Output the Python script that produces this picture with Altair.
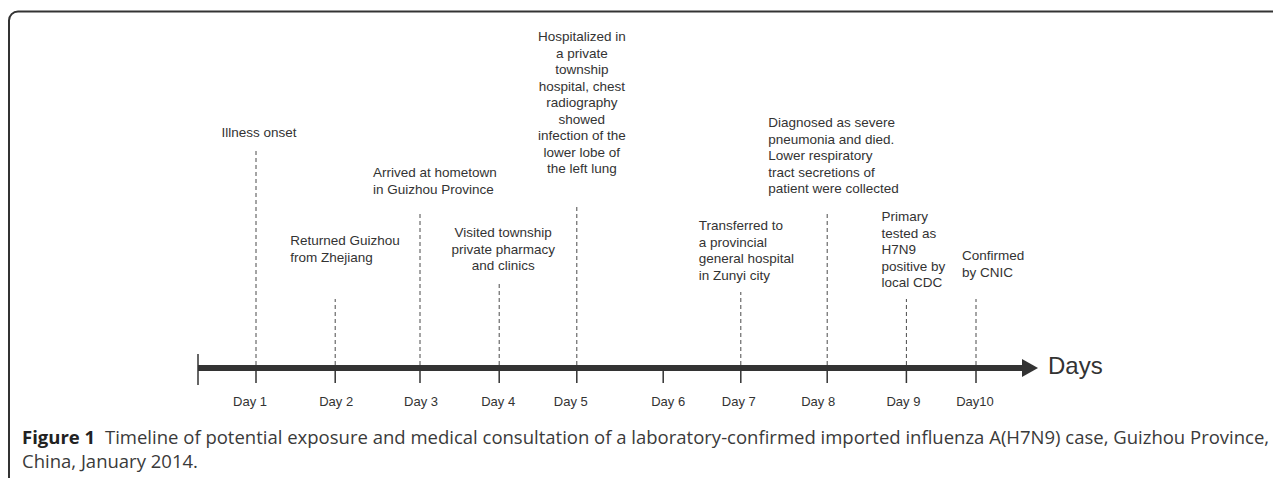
import altair as alt
import pandas as pd

# ---------------- data ----------------
day_labels = ["Day 1", "Day 2", "Day 3", "Day 4", "Day 5",
              "Day 6", "Day 7", "Day 8", "Day 9", "Day10"]
# drawn position of each day mark on the timeline (in day units)
day_pos = [1.0, 1.99, 3.05, 4.04, 5.01, 6.09, 7.06, 8.14, 9.13, 10.0]

event_day = [1, 2, 3, 4, 5, 7, 8, 9, 10]
event_lines = [
    ["Illness onset"],
    ["Returned Guizhou", "from Zhejiang"],
    ["Arrived at hometown", "in Guizhou Province"],
    ["Visited township", "private pharmacy", "and clinics"],
    ["Hospitalized in", "a private", "township", "hospital, chest",
     "radiography", "showed", "infection of the", "lower lobe of",
     "the left lung"],
    ["Transferred to", "a provincial", "general hospital", "in Zunyi city"],
    ["Diagnosed as severe", "pneumonia and died.", "Lower respiratory",
     "tract secretions of", "patient were collected"],
    ["Primary", "tested as", "H7N9", "positive by", "local CDC"],
    ["Confirmed", "by CNIC"],
]

caption_bold = "Figure 1"
caption_line1 = ("Timeline of potential exposure and medical consultation of a "
                 "laboratory-confirmed imported influenza A(H7N9) case, Guizhou Province,")
caption_line2 = "China, January 2014."
axis_title = "Days"

# ---------------- layout (kept apart from the data) ----------------
PX = 80.0                                   # pixels per day unit
stem_top = [220, 69, 156, 85, 164, 76, 156, 69, 69]      # height of dashed stem
label_align = ["center", "left", "left", "center", "center",
               "left", "left", "left", "left"]
label_dx = [3, -45, -47, 4, 5, -42, -59, -25, -14]        # px from the stem
label_top = [235, 127, 195, 135, 331, 142, 245, 151, 112]  # first text line height
day_label_dx = [-6, 1, 1, -1, -6, 5, -2, -9, -3, -1]      # px shift of day labels

TXT = "#333333"
FONT = "Liberation Sans"
CAP_FS = 18.5

xs = alt.Scale(domain=[-2.1, 13.7125], nice=False, zero=False)
ys = alt.Scale(domain=[-110, 360], nice=False, zero=False)


def X(f, **kw):
    return alt.X(f, type="quantitative", scale=xs, axis=None, **kw)


def Y(f, **kw):
    return alt.Y(f, type="quantitative", scale=ys, axis=None, **kw)


ev = pd.DataFrame({
    "pos": [day_pos[d - 1] for d in event_day],
    "top": stem_top,
    "base": [3] * len(event_day),
    "lx": [day_pos[d - 1] + dx / PX for d, dx in zip(event_day, label_dx)],
    "ly": label_top,
    "label": ["\n".join(l) for l in event_lines],
    "align": label_align,
})

days_df = pd.DataFrame({
    "pos": day_pos, "label": day_labels,
    "lpos": [p + dx / PX for p, dx in zip(day_pos, day_label_dx)],
    "y0": [0] * 10, "y1": [-15] * 10, "ly": [-34] * 10})

start = 0.275
shaft = pd.DataFrame({"x": [start], "x2": [10.6], "y": [0]})
endtick = pd.DataFrame({"x": [start], "y": [14], "y2": [-17]})
arrow = pd.DataFrame({"x": [10.675], "y": [0]})
title_df = pd.DataFrame({"x": [10.9], "y": [1], "t": [axis_title]})

cap_x = -1.925
cap = pd.DataFrame({"x": [cap_x], "y1": [-70], "y2": [-94],
                    "b": [caption_bold], "l1": [caption_line1], "l2": [caption_line2]})

dummy = pd.DataFrame({"a": [0]})

frame = alt.Chart(dummy).mark_rect(
    cornerRadius=9, fill="white", fillOpacity=0, stroke="#333333", strokeWidth=2
).encode(x=alt.value(1), x2=alt.value(1400), y=alt.value(3.5), y2=alt.value(520))

stems = alt.Chart(ev).mark_rule(color="#4a4a4a", strokeWidth=1, strokeDash=[4, 3]).encode(
    x=X("pos"), y=Y("base"), y2="top")

text_kw = dict(baseline="middle", font=FONT, fontSize=13.5, lineHeight=16.5,
               lineBreak="\n", color=TXT)

labels_left = alt.Chart(ev).transform_filter(alt.datum.align == "left").mark_text(
    align="left", **text_kw
).encode(x=X("lx"), y=Y("ly"), text="label:N")

labels_center = alt.Chart(ev).transform_filter(alt.datum.align == "center").mark_text(
    align="center", **text_kw
).encode(x=X("lx"), y=Y("ly"), text="label:N")

shaft_l = alt.Chart(shaft).mark_rule(color="#333333", strokeWidth=6).encode(
    x=X("x"), x2="x2", y=Y("y"))

endtick_l = alt.Chart(endtick).mark_rule(color="#333333", strokeWidth=1.5).encode(
    x=X("x"), y=Y("y"), y2="y2")

ticks = alt.Chart(days_df).mark_rule(color="#333333", strokeWidth=1.5).encode(
    x=X("pos"), y=Y("y0"), y2="y1")

day_text = alt.Chart(days_df).mark_text(
    align="center", baseline="middle", font=FONT, fontSize=13, color=TXT
).encode(x=X("lpos"), y=Y("ly"), text="label:N")

arrow_l = alt.Chart(arrow).mark_point(
    shape="M-1,-1.125L1,0L-1,1.125Z", size=256, filled=True, color="#333333",
    opacity=1, strokeWidth=0
).encode(x=X("x"), y=Y("y"))

title_l = alt.Chart(title_df).mark_text(
    align="left", baseline="middle", font=FONT, fontSize=24, color=TXT
).encode(x=X("x"), y=Y("y"), text="t:N")

cap_b = alt.Chart(cap).mark_text(
    align="left", baseline="middle", font="Open Sans", fontWeight="bold",
    fontSize=CAP_FS, color="#222222"
).encode(x=X("x"), y=Y("y1"), text="b:N")

cap_1 = alt.Chart(cap).mark_text(
    align="left", baseline="middle", font="Open Sans", fontSize=CAP_FS,
    color="#3a3a3a", dx=83
).encode(x=X("x"), y=Y("y1"), text="l1:N")

cap_2 = alt.Chart(cap).mark_text(
    align="left", baseline="middle", font="Open Sans", fontSize=CAP_FS, color="#3a3a3a"
).encode(x=X("x"), y=Y("y2"), text="l2:N")

chart = alt.layer(
    frame, stems, shaft_l, endtick_l, ticks, arrow_l,
    labels_left, labels_center, day_text, title_l, cap_b, cap_1, cap_2
).properties(
    width=1265, height=470, padding=0,
    autosize=alt.AutoSizeParams(type="none")
).configure_view(strokeWidth=0)

chart.save("out.html", embed_options={"renderer": "svg", "actions": False})
